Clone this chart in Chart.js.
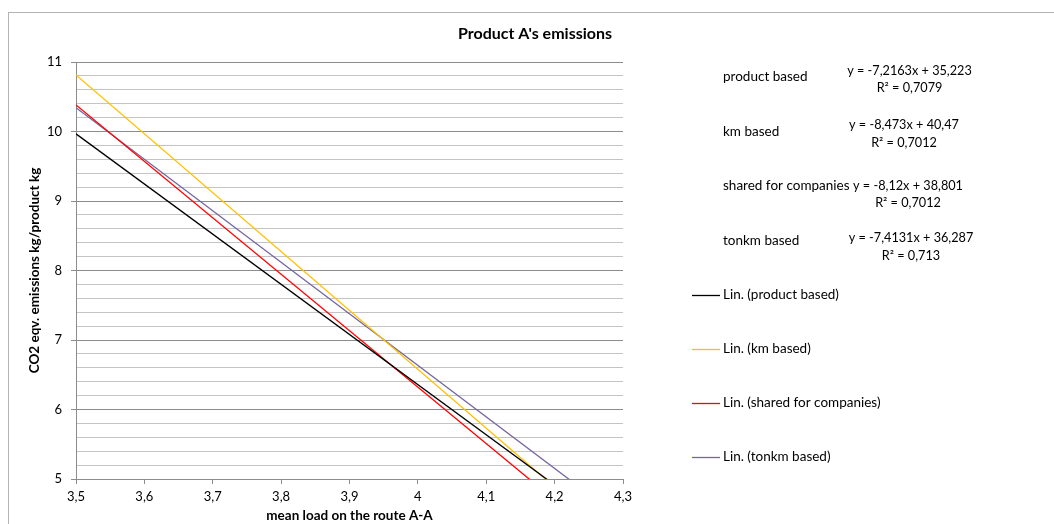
<!DOCTYPE html>
<html>
<head>
<meta charset="utf-8">
<script src="https://cdn.jsdelivr.net/npm/chart.js@4/dist/chart.umd.min.js"></script>
<style>
  html, body { margin: 0; padding: 0; background: #ffffff; }
  #wrap { width: 1054px; height: 524px; position: relative; }
</style>
</head>
<body>
<div id="wrap"><canvas id="chart" width="1054" height="524"></canvas></div>
<script>
// Trend lines of CO2 emissions vs mean load, four allocation methods
const seriesNames = ['product based', 'km based', 'shared for companies', 'tonkm based'];
const seriesColors = ['#000000', '#FFC000', '#FF0000', '#7464A0'];
const slopes = [-7.2163, -8.473, -8.12, -7.4131];
const intercepts = [35.223, 40.47, 38.801, 36.287];
const equationLabels = ['y = -7,2163x + 35,223', 'y = -8,473x + 40,47', 'y = -8,12x + 38,801', 'y = -7,4131x + 36,287'];
const r2Labels = ['R\u00B2 = 0,7079', 'R\u00B2 = 0,7012', 'R\u00B2 = 0,7012', 'R\u00B2 = 0,713'];
const xRange = [3.5, 4.3];
const yRange = [5, 11];

const FONT = 'Lato, "Open Sans", sans-serif';

// each trend line spans the x range; the part below the y range is clipped by the chart area
const datasets = seriesNames.map((name, i) => ({
  label: 'Lin. (' + name + ')',
  data: xRange.map(x => ({ x: x, y: slopes[i] * x + intercepts[i] })),
  borderColor: seriesColors[i],
  backgroundColor: seriesColors[i],
  borderWidth: 1.3,
  pointRadius: 0,
  showLine: true,
  tension: 0
}));

const fmt = v => {
  const r = Math.round(v * 10) / 10;
  return String(r).replace('.', ',');
};
const isMajor = v => Math.abs(v - Math.round(v)) < 1e-6;

// layout of the text panel at the right
const eqRows = [
  { nameY: 77, eqY: 71, r2Y: 88, cx: 909.5 },
  { nameY: 132, eqY: 125, r2Y: 143, cx: 904 },
  { nameY: 186, eqY: 186, r2Y: 203, cx: 908 },
  { nameY: 241, eqY: 238, r2Y: 256, cx: 911 }
];
const legendRowsY = [295, 349, 403, 457];

const decor = {
  id: 'decor',
  beforeDraw(chart) {
    const ctx = chart.ctx;
    ctx.save();
    ctx.strokeStyle = '#b4b4b4';
    ctx.lineWidth = 1;
    ctx.strokeRect(8.5, 12.5, 1200, 600);
    ctx.restore();
  },
  afterDraw(chart) {
    const ctx = chart.ctx;
    ctx.save();
    ctx.fillStyle = '#000';
    ctx.textBaseline = 'middle';
    ctx.font = 'bold 16px ' + FONT;
    ctx.textAlign = 'center';
    ctx.fillText("Product A's emissions", 535, 34);

    seriesNames.forEach((name, i) => {
      const r = eqRows[i];
      ctx.font = '13.5px ' + FONT;
      ctx.textAlign = 'left';
      ctx.fillText(name, 723, r.nameY);
      ctx.font = '12.7px ' + FONT;
      ctx.textAlign = 'center';
      ctx.fillText(equationLabels[i], r.cx, r.eqY);
      ctx.fillText(r2Labels[i], r.cx, r.r2Y);
    });

    ctx.font = '13.5px ' + FONT;
    datasets.forEach((ds, i) => {
      const y = legendRowsY[i];
      ctx.strokeStyle = ds.borderColor;
      ctx.lineWidth = 1.3;
      ctx.beginPath();
      ctx.moveTo(692, y + 0.5);
      ctx.lineTo(720, y + 0.5);
      ctx.stroke();
      ctx.textAlign = 'left';
      ctx.fillStyle = '#000';
      ctx.fillText(ds.label, 723, y);
    });
    ctx.restore();
  }
};

new Chart(document.getElementById('chart'), {
  type: 'scatter',
  data: { datasets: datasets },
  plugins: [decor],
  options: {
    responsive: false,
    animation: false,
    events: [],
    layout: { padding: { left: 8, top: 62, right: 431, bottom: 0 } },
    plugins: { legend: { display: false }, tooltip: { enabled: false }, title: { display: false } },
    scales: {
      x: {
        type: 'linear',
        min: xRange[0],
        max: xRange[1],
        afterBuildTicks(scale) {
          const t = [];
          for (let k = 0; k <= 8; k++) t.push({ value: Math.round((xRange[0] + k * 0.1) * 10) / 10 });
          scale.ticks = t;
        },
        afterFit(scale) { scale.height = 45; },
        border: { display: true, color: '#8c8c8c', width: 1 },
        grid: { drawOnChartArea: false, drawTicks: true, tickLength: 5, color: '#8c8c8c' },
        ticks: {
          callback: v => fmt(v),
          color: '#000',
          font: { family: FONT, size: 13 },
          padding: 5,
          maxRotation: 0,
          autoSkip: false
        },
        title: {
          display: true,
          text: 'mean load on the route A-A',
          color: '#000',
          font: { family: FONT, size: 13.5, weight: 'bold' },
          padding: { top: -3, bottom: 0 }
        }
      },
      y: {
        type: 'linear',
        min: yRange[0],
        max: yRange[1],
        afterBuildTicks(scale) {
          const t = [];
          for (let k = 0; k <= 30; k++) t.push({ value: Math.round((yRange[0] + k * 0.2) * 10) / 10 });
          scale.ticks = t;
        },
        afterFit(scale) { scale.width = 68; },
        border: { display: true, color: '#8c8c8c', width: 1 },
        grid: {
          drawOnChartArea: true,
          drawTicks: true,
          tickLength: 5,
          lineWidth: 1,
          color: ctx => (ctx.tick && isMajor(ctx.tick.value)) ? '#8c8c8c' : '#c4c4c4',
          tickColor: ctx => (ctx.tick && isMajor(ctx.tick.value)) ? '#8c8c8c' : 'rgba(0,0,0,0)'
        },
        ticks: {
          callback: v => isMajor(v) ? String(Math.round(v)) : '',
          color: '#000',
          font: { family: FONT, size: 13 },
          padding: 9,
          autoSkip: false
        },
        title: {
          display: true,
          text: 'CO2 eqv. emissions kg/product kg',
          color: '#000',
          font: { family: FONT, size: 13.5, weight: 'bold' },
          padding: { top: 19, bottom: 0 }
        }
      }
    }
  }
});
</script>
</body>
</html>
